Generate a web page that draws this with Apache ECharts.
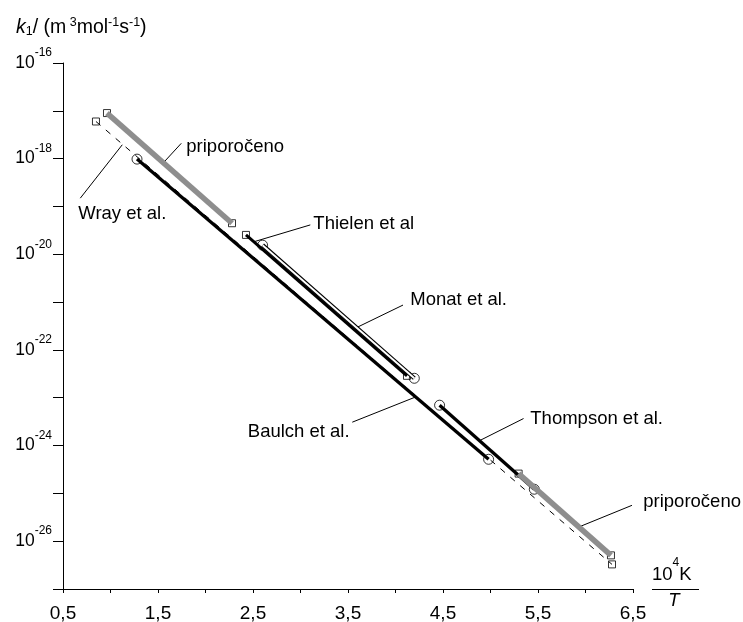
<!DOCTYPE html>
<html><head><meta charset="utf-8">
<script src="https://cdn.jsdelivr.net/npm/echarts@6/dist/echarts.min.js"></script>
<style>html,body{margin:0;padding:0;background:#fff}#c{width:743px;height:622px}</style>
</head><body><div id="c"></div>
<script>
const FONT = '"Liberation Sans", Arial, Helvetica, sans-serif';

// tick labels
const xTickLabels = [0.5, 1.5, 2.5, 3.5, 4.5, 5.5, 6.5];
const yTickExponents = [-16, -18, -20, -22, -24, -26];

// series values: x = 10^4 K / T, k1 in m^3 mol^-1 s^-1
const recUpperT = [0.963, 2.279];   const recUpperK = [8.97e-18, 4.46e-20];
const recLowerT = [5.296, 6.268];   const recLowerK = [2.59e-25, 5.05e-27];
const wrayT = [0.847, 6.279];       const wrayK = [5.98e-18, 3.27e-27];
const baulchT = [1.279, 4.980];     const baulchK = [9.77e-19, 5.16e-25];
const thielenT = [2.426, 4.121];    const thielenK = [2.54e-20, 2.87e-23];
const monatT = [2.601, 4.198];      const monatK = [1.55e-20, 2.55e-23];
const thompsonT = [4.464, 5.461];   const thompsonK = [6.98e-24, 1.22e-25];

// annotations (data coordinates)
const annLabels = ['priporočeno', 'Wray et al.', 'Thielen et al', 'Monat et al.', 'Baulch et al.', 'Thompson et al.', 'priporočeno'];
const annAlign  = ['left', 'left', 'left', 'left', 'right', 'left', 'left'];
const annT  = [1.798, 0.661, 3.135, 4.156, 3.517, 5.419, 6.608];
const annK  = [1.77e-18, 7.11e-20, 4.42e-20, 1.10e-21, 1.95e-24, 3.64e-24, 6.50e-26];
const leadT1 = [1.745, 0.682, 3.103, 4.079, 3.545, 5.348, 6.489];
const leadK1 = [2.09e-18, 1.49e-19, 4.11e-20, 8.67e-22, 3.08e-24, 3.67e-24, 5.62e-26];
const leadT2 = [1.556, 1.124, 2.503, 3.595, 4.208, 4.893, 5.927];
const leadK2 = [8.17e-19, 1.95e-18, 1.81e-20, 2.96e-22, 1.03e-23, 1.29e-24, 1.97e-26];

function pts(ts, ks) { return ts.map((t, i) => [t, Math.log10(ks[i])]); }

function lineS(name, ts, ks, ls) {
  return { type: 'line', name, data: pts(ts, ks), symbol: 'none', lineStyle: ls,
    silent: true, emphasis: { disabled: true } };
}
function markS(name, ts, ks, symbol, size) {
  return { type: 'scatter', name, data: pts(ts, ks), symbol, symbolSize: size,
    itemStyle: { color: 'rgba(0,0,0,0)', borderColor: '#000', borderWidth: 1 },
    silent: true, emphasis: { disabled: true } };
}

const GRAY = '#8e8e8e';
const chart = echarts.init(document.getElementById('c'));
chart.setOption({
  animation: false,
  backgroundColor: '#fff',
  grid: { left: 63, right: 110, top: 63, bottom: 33, containLabel: false, outerBoundsMode: 'none' },
  xAxis: {
    type: 'value', min: 0.5, max: 6.5, interval: 0.5,
    axisLine: { show: true, onZero: false, lineStyle: { color: '#000', width: 1 } },
    axisTick: { show: true, length: 4, lineStyle: { color: '#000', width: 1 } },
    splitLine: { show: false },
    axisLabel: {
      margin: 15, color: '#000', fontSize: 19, fontFamily: FONT,
      formatter: v => xTickLabels.some(t => Math.abs(t - v) < 1e-6) ? v.toFixed(1).replace('.', ',') : ''
    }
  },
  yAxis: {
    type: 'value', min: -27, max: -16, interval: 1,
    axisLine: { show: true, onZero: false, lineStyle: { color: '#000', width: 1 } },
    axisTick: { show: true, length: 10, lineStyle: { color: '#000', width: 1 } },
    splitLine: { show: false },
    axisLabel: {
      margin: 11, color: '#000', fontFamily: FONT, fontSize: 17.5,
      formatter: v => {
        const e = Math.round(v);
        return yTickExponents.indexOf(e) >= 0 ? '{base|10}{sup|' + e + '}' : '';
      },
      rich: {
        base: { fontSize: 17.5, fontFamily: FONT, color: '#000' },
        sup: { fontSize: 12, fontFamily: FONT, color: '#000', padding: [0, 0, 20, 0] }
      }
    }
  },
  series: [
    lineS('Wray et al.', wrayT, wrayK, { color: '#000', width: 1, type: [6, 7] }),
    lineS('Baulch et al.', baulchT, baulchK, { color: '#000', width: 3.3 }),
    lineS('Thielen et al', thielenT, thielenK, { color: '#000', width: 3 }),
    lineS('Monat et al.', monatT, monatK, { color: '#000', width: 4.2 }),
    lineS('Monat et al.', monatT, monatK, { color: '#fff', width: 2 }),
    lineS('Thompson et al.', thompsonT, thompsonK, { color: '#000', width: 3.3 }),
    lineS('priporočeno', recUpperT, recUpperK, { color: GRAY, width: 5.5 }),
    lineS('priporočeno', recLowerT, recLowerK, { color: GRAY, width: 5.5 }),
    markS('Wray et al.', wrayT, wrayK, 'rect', 7),
    markS('Baulch et al.', baulchT, baulchK, 'circle', 10),
    markS('Thielen et al', thielenT, thielenK, 'rect', 7),
    markS('Monat et al.', monatT, monatK, 'circle', 10),
    markS('Thompson et al.', thompsonT, thompsonK, 'circle', 10),
    markS('priporočeno', recUpperT, recUpperK, 'rect', 7),
    markS('priporočeno', recLowerT, recLowerK, 'rect', 7)
  ]
});

const g = [];
for (let i = 0; i < annLabels.length; i++) {
  const p1 = chart.convertToPixel({ gridIndex: 0 }, [leadT1[i], Math.log10(leadK1[i])]);
  const p2 = chart.convertToPixel({ gridIndex: 0 }, [leadT2[i], Math.log10(leadK2[i])]);
  const pt = chart.convertToPixel({ gridIndex: 0 }, [annT[i], Math.log10(annK[i])]);
  g.push({ type: 'line', silent: true, shape: { x1: p1[0], y1: p1[1], x2: p2[0], y2: p2[1] },
    style: { stroke: '#000', lineWidth: 1 } });
  g.push({ type: 'text', silent: true, x: pt[0], y: pt[1],
    style: { text: annLabels[i], fontSize: 18.5, fontFamily: FONT, fill: '#000',
      align: annAlign[i], verticalAlign: 'middle' } });
}
// y-axis title
g.push({ type: 'text', silent: true, x: 16, y: 27.5, style: {
  text: '{i|k}{sub|1}{n|/ (m}{sup| 3}{n|mol}{sup|-1}{n|s}{sup|-1}{n|)}',
  fill: '#000', align: 'left', verticalAlign: 'middle',
  rich: {
    n: { fontSize: 19.5, lineHeight: 22, fontFamily: FONT, fill: '#000' },
    i: { fontSize: 19.5, lineHeight: 22, fontFamily: FONT, fontStyle: 'italic', fill: '#000' },
    sup: { fontSize: 12.5, lineHeight: 11, verticalAlign: 'top', fontFamily: FONT, fill: '#000' },
    sub: { fontSize: 12.5, lineHeight: 9, verticalAlign: 'bottom', fontFamily: FONT, fill: '#000' }
  }
}});
// x-axis title (fraction)
g.push({ type: 'text', silent: true, x: 652, y: 575, style: {
  text: '{b|10}{s|4}{b|K}', fill: '#000', align: 'left', verticalAlign: 'middle',
  rich: {
    b: { fontSize: 18.5, lineHeight: 37, fontFamily: FONT, fill: '#000' },
    s: { fontSize: 12, lineHeight: 12, verticalAlign: 'top', fontFamily: FONT, fill: '#000' }
  }
}});
g.push({ type: 'line', silent: true, shape: { x1: 652, y1: 589.5, x2: 699, y2: 589.5 },
  style: { stroke: '#000', lineWidth: 1 } });
g.push({ type: 'text', silent: true, x: 674, y: 601, style: {
  text: 'T', fontSize: 18.5, fontStyle: 'italic', fontFamily: FONT, fill: '#000',
  align: 'center', verticalAlign: 'middle' } });
chart.setOption({ graphic: g });
</script>
</body></html>
